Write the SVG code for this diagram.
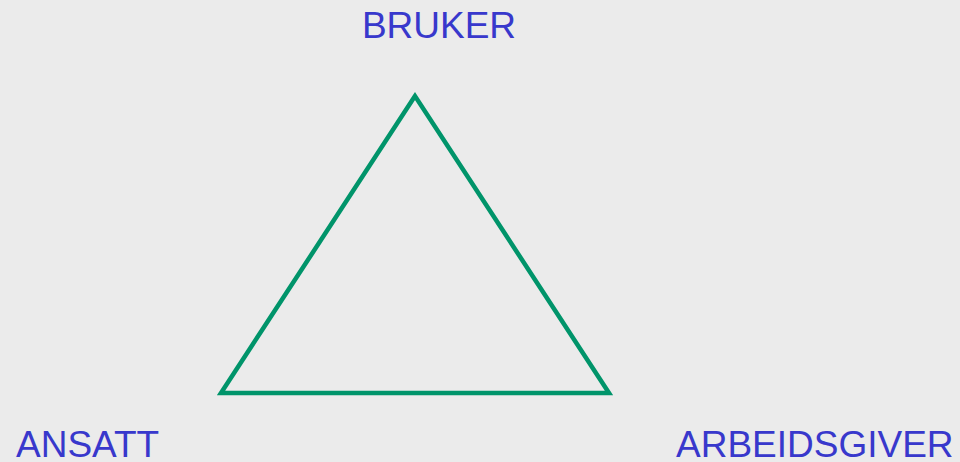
<svg xmlns="http://www.w3.org/2000/svg" width="960" height="462" viewBox="0 0 960 462">
<style>
.lbl{font-family:"Liberation Sans",Arial,sans-serif;font-size:37px;fill:#3838cc}
.edge{fill:none;stroke:#00946a;stroke-width:4.5;stroke-linejoin:miter}
</style>
<rect width="960" height="462" fill="#ebebeb"/>
<g id="connectors">
<polygon class="edge" points="415,96 221,393 609,393"/>
</g>
<g id="bruker"><text class="lbl" x="439" y="38" text-anchor="middle">BRUKER</text></g>
<g id="ansatt"><text class="lbl" x="16" y="457">ANSATT</text></g>
<g id="arbeidsgiver"><text class="lbl" x="676" y="457">ARBEIDSGIVER</text></g>
</svg>
